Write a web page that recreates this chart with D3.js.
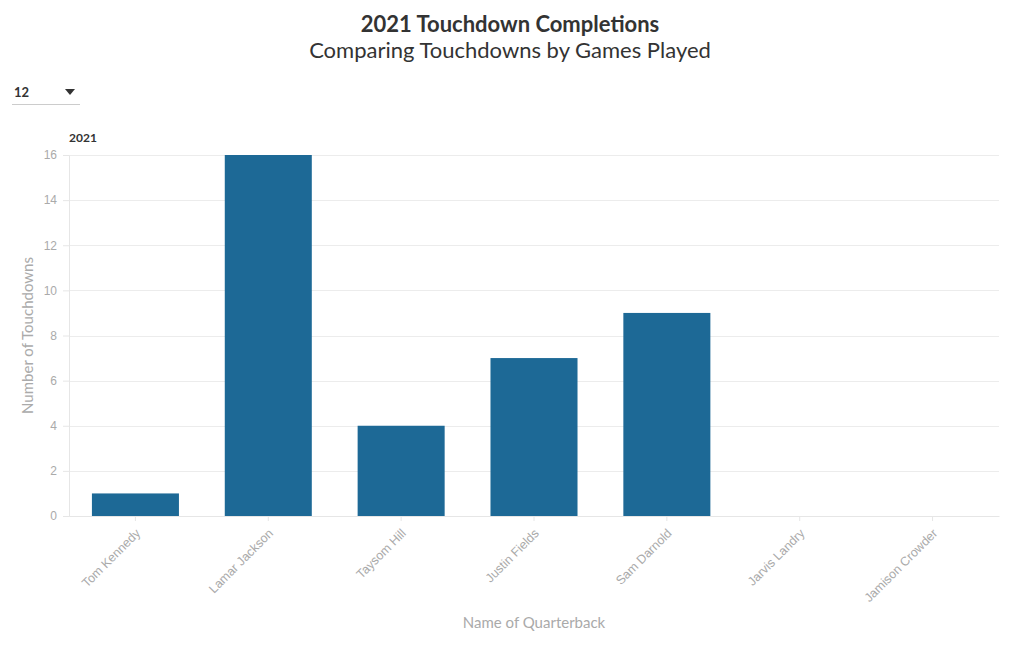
<!DOCTYPE html>
<html lang="en">
<head>
    <meta charset="utf-8">
    <title>2021 Touchdown Completions</title>
    <style>
        body {
            margin: 0;
            background-color: white;
            font-family: "Source Sans Pro", Lato, "Open Sans", sans-serif;
        }
        .axis path { stroke: #e6e6e6; }
        .axis line { stroke: #e6e6e6; }
        .axis text { fill: #aaaaaa; font-size: 12px; }
        .axis--x text { font-size: 12.5px; }
        .grid line { stroke: #ececec; shape-rendering: crispEdges; }
        .grid path { stroke: none; }
    </style>
</head>
<body>
    <script src="https://d3js.org/d3.v7.min.js"></script>
    <svg width="1020" height="650"></svg>
    <script>
        // data
        var players = ["Tom Kennedy", "Lamar Jackson", "Taysom Hill", "Justin Fields", "Sam Darnold", "Jarvis Landry", "Jamison Crowder"];
        var touchdowns = [1, 16, 4, 7, 9, 0, 0];
        var yTicks = [0, 2, 4, 6, 8, 10, 12, 14, 16];

        var svg = d3.select("svg"),
            margin = { top: 155, right: 21, bottom: 134, left: 69 },
            width = +svg.attr("width") - margin.left - margin.right,
            height = +svg.attr("height") - margin.top - margin.bottom;

        var data = players.map(function(p, i) { return { name: p, td: touchdowns[i] }; });

        var x = d3.scaleBand().domain(players).range([0, width])
            .paddingInner(0.345).paddingOuter(0.1725);
        var y = d3.scaleLinear().domain([0, 16]).range([height, 0]);

        // titles
        svg.append("text")
            .attr("x", 510).attr("y", 32)
            .attr("text-anchor", "middle")
            .attr("font-size", "22px").attr("font-weight", "bold")
            .attr("fill", "#333")
            .text("2021 Touchdown Completions");
        svg.append("text")
            .attr("x", 510).attr("y", 58)
            .attr("text-anchor", "middle")
            .attr("font-size", "22px")
            .attr("fill", "#333")
            .text("Comparing Touchdowns by Games Played");

        // dropdown look-alike
        svg.append("text")
            .attr("x", 14).attr("y", 97)
            .attr("font-size", "13px").attr("font-weight", "bold")
            .attr("fill", "#333")
            .text("12");
        svg.append("path")
            .attr("d", "M65,89 L75,89 L70,95 Z")
            .attr("fill", "#333");
        svg.append("line")
            .attr("x1", 12).attr("x2", 80).attr("y1", 104.5).attr("y2", 104.5)
            .attr("stroke", "#cccccc");

        var g = svg.append("g")
            .attr("transform", "translate(" + margin.left + "," + margin.top + ")");

        g.append("text")
            .attr("x", 0).attr("y", -13)
            .attr("font-size", "12px").attr("font-weight", "bold")
            .attr("fill", "#333")
            .text("2021");

        // gridlines
        g.append("g")
            .attr("class", "grid")
            .call(d3.axisLeft(y).tickValues(yTicks).tickSize(-width).tickFormat(""));

        // y axis
        g.append("g")
            .attr("class", "axis axis--y")
            .call(d3.axisLeft(y).tickValues(yTicks).tickSize(6).tickPadding(6).tickSizeOuter(0));

        // x axis
        var xAxis = g.append("g")
            .attr("class", "axis axis--x")
            .attr("transform", "translate(0," + height + ")")
            .call(d3.axisBottom(x).tickSize(5).tickSizeOuter(0));
        xAxis.selectAll("text")
            .attr("text-anchor", "end")
            .attr("dx", "-0.7em")
            .attr("dy", "0.7em")
            .attr("transform", "rotate(-45)");

        // bars
        g.selectAll(".bar")
            .data(data)
            .enter().append("rect")
            .attr("class", "bar")
            .attr("x", function(d) { return x(d.name); })
            .attr("width", x.bandwidth())
            .attr("y", function(d) { return y(d.td); })
            .attr("height", function(d) { return height - y(d.td); })
            .attr("fill", "#1d6996");

        // axis titles
        g.append("text")
            .attr("transform", "rotate(-90)")
            .attr("x", -height / 2)
            .attr("y", -36)
            .attr("text-anchor", "middle")
            .attr("font-size", "15px")
            .attr("fill", "#aaaaaa")
            .text("Number of Touchdowns");
        g.append("text")
            .attr("x", width / 2)
            .attr("y", height + 112)
            .attr("text-anchor", "middle")
            .attr("font-size", "15px")
            .attr("fill", "#aaaaaa")
            .text("Name of Quarterback");
    </script>
</body>
</html>
